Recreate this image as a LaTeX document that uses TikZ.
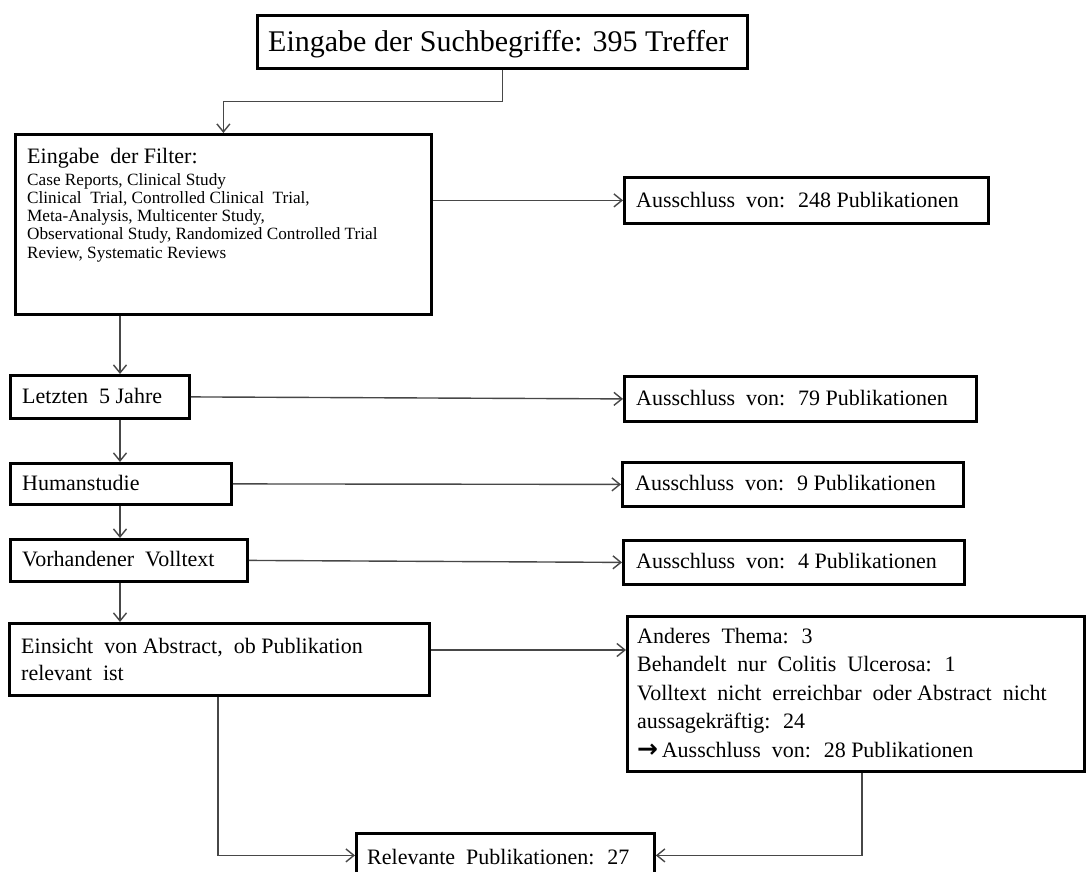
\documentclass[tikz,border=0pt]{standalone}
\usepackage{fontspec}
\setmainfont{Liberation Serif}
\newfontfamily\arrowfont{DejaVu Sans}
\usetikzlibrary{arrows.meta}
\begin{document}
\begin{tikzpicture}[x=1pt,y=-1pt,
  box/.style={draw=black, line width=2.8pt, inner sep=0pt, anchor=north west},
  txt/.style={anchor=base west, inner sep=0pt, text=black, font=\fontsize{22}{27}\selectfont},
  conn/.style={draw=black!72, line width=1.4pt},
  arr/.style={conn, -{Straight Barb[length=8pt,width=13pt]}}
]
\useasboundingbox (0,0) rectangle (1086,872);

% boxes
\node[box, minimum width=490pt, minimum height=53pt] (top) at (256,14) {};
\node[box, minimum width=416pt, minimum height=180pt] (filter) at (14,133) {};
\node[box, minimum width=364pt, minimum height=46pt] (aus248) at (623,176) {};
\node[box, minimum width=179pt, minimum height=43pt] (letzten) at (9,374) {};
\node[box, minimum width=352pt, minimum height=45pt] (aus79) at (623,375) {};
\node[box, minimum width=221pt, minimum height=41pt] (human) at (9,462) {};
\node[box, minimum width=341pt, minimum height=44pt] (aus9) at (621,461) {};
\node[box, minimum width=237pt, minimum height=42pt] (volltext) at (9,538) {};
\node[box, minimum width=341pt, minimum height=44pt] (aus4) at (622,539) {};
\node[box, minimum width=420pt, minimum height=72pt] (einsicht) at (8,622) {};
\node[box, minimum width=457pt, minimum height=155pt] (big) at (626,615) {};
\node[box, minimum width=298pt, minimum height=44pt] (relevant) at (355,832) {};

% texts (multi-line nodes: base = baseline of the last line)
\node[txt, font=\fontsize{30}{36}\selectfont] (top-t) at (268,51.5) {Eingabe der Suchbegriffe: 395 Treffer};
\node[txt] (filter-h) at (27,163) {Eingabe~ der Filter:};
\node[txt, align=left, font=\fontsize{17.2}{18.3}\selectfont] (filter-l) at (27,258.2)
  {Case Reports, Clinical Study\\
   Clinical~ Trial, Controlled Clinical~ Trial,\\
   Meta-Analysis, Multicenter Study,\\
   Observational Study, Randomized Controlled Trial\\
   Review, Systematic Reviews};
\node[txt] (aus248-t) at (636,207) {Ausschluss~ von:~ 248 Publikationen};
\node[txt] (letzten-t) at (22,403) {Letzten~ 5 Jahre};
\node[txt] (aus79-t) at (636,405) {Ausschluss~ von:~ 79 Publikationen};
\node[txt] (human-t) at (22,490) {Humanstudie};
\node[txt] (aus9-t) at (635,490.5) {Ausschluss~ von:~ 9 Publikationen};
\node[txt] (volltext-t) at (22,566.5) {Vorhandener~ Volltext};
\node[txt] (aus4-t) at (636,568.5) {Ausschluss~ von:~ 4 Publikationen};
\node[txt, align=left] (einsicht-t) at (21,680) {Einsicht~ von Abstract,~ ob Publikation\\relevant~ ist};
\node[txt, align=left, font=\fontsize{22}{28.5}\selectfont] (big-t) at (637,757)
  {Anderes~ Thema:~ 3\\
   Behandelt~ nur~ Colitis~ Ulcerosa:~ 1\\
   Volltext~ nicht~ erreichbar~ oder Abstract~ nicht\\
   aussagekräftig:~ 24\\
   {\arrowfont\bfseries\fontsize{25}{25}\selectfont →}\,Ausschluss~ von:~ 28 Publikationen};
\node[txt] (relevant-t) at (367,864) {Relevante~ Publikationen:~ 27};

% connectors
\coordinate (col) at (120,0);
\coordinate (cl) at (218,0);
\coordinate (cr) at (862,0);
\coordinate (r5) at (0,650);
\draw[arr] (top.south) -- ++(0,32) -| (filter.north);
\draw[arr] (filter.east |- aus248.west) -- (aus248.west);
\draw[arr] (filter.south -| col) -- (letzten.north -| col);
\draw[arr] (letzten.east) -- (aus79.west);
\draw[arr] (letzten.south -| col) -- (human.north -| col);
\draw[arr] (human.east) -- (aus9.west);
\draw[arr] (human.south -| col) -- (volltext.north -| col);
\draw[arr] (volltext.east) -- (aus4.west);
\draw[arr] (volltext.south -| col) -- (einsicht.north -| col);
\draw[arr] (einsicht.east |- r5) -- (big.west |- r5);
\draw[arr] (einsicht.south -| cl) |- (relevant.west);
\draw[arr] (big.south -| cr) |- (relevant.east);
\end{tikzpicture}
\end{document}
